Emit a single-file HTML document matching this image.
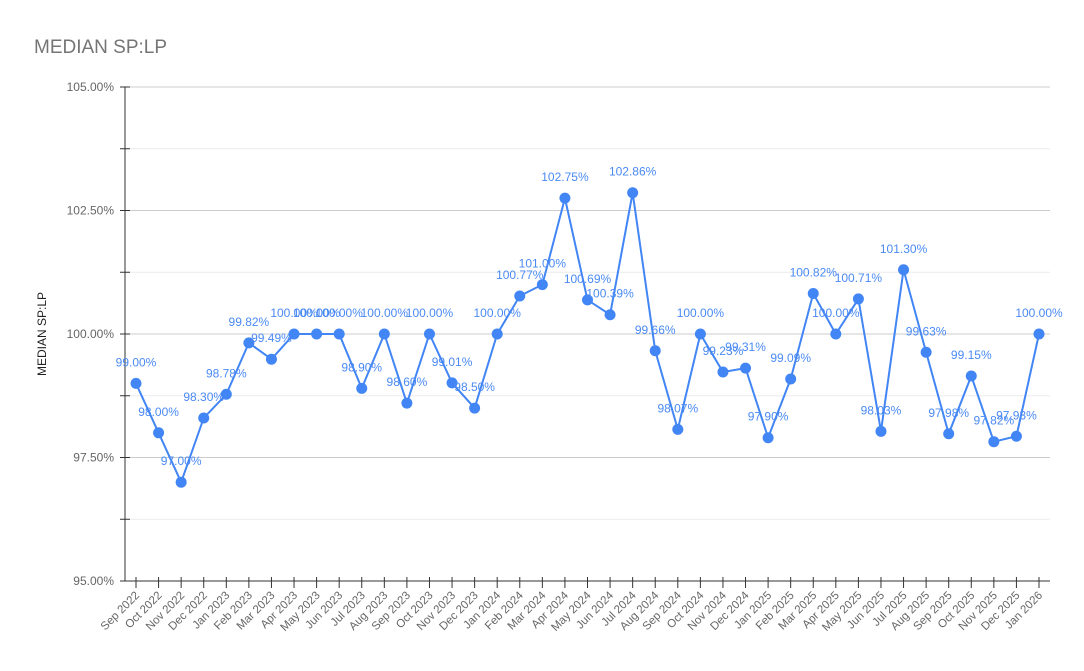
<!DOCTYPE html><html><head><meta charset="utf-8"><style>body{margin:0;background:#fff}svg{display:block;font-family:"Liberation Sans",Roboto,sans-serif}</style></head><body>
<svg id="c" width="1084" height="671" xmlns="http://www.w3.org/2000/svg"></svg>
<script>
const v=[99,98,97,98.3,98.78,99.82,99.49,100,100,100,98.9,100,98.6,100,99.01,98.5,100,100.77,101,102.75,100.69,100.39,102.86,99.66,98.07,100,99.23,99.31,97.9,99.09,100.82,100,100.71,98.03,101.3,99.63,97.98,99.15,97.82,97.93,100];
const m=['Jan','Feb','Mar','Apr','May','Jun','Jul','Aug','Sep','Oct','Nov','Dec'];
const X=i=>136+i*22.575, Y=p=>581-(p-95)*49.4;
let s='<text x="34" y="53" font-size="19" fill="#757575">MEDIAN SP:LP</text>';
s+='<text transform="translate(46,334) rotate(-90)" text-anchor="middle" font-size="12" fill="#222">MEDIAN SP:LP</text>';
for(let k=0;k<=8;k++){const p=95+k*1.25,y=Y(p);s+=`<line x1="125" x2="1050" y1="${y}" y2="${y}" stroke="${k%2?'#ebebeb':'#ccc'}"/>`;
s+=`<line x1="120" x2="130" y1="${y}" y2="${y}" stroke="#333"/>`;
if(k%2==0)s+=`<text x="114" y="${y+4}" text-anchor="end" font-size="12" fill="#666">${p.toFixed(2)}%</text>`;}
s+='<line x1="125" x2="125" y1="87" y2="581" stroke="#333"/><line x1="125" x2="1050" y1="581" y2="581" stroke="#333"/>';
let pts=[];
v.forEach((p,i)=>{const x=X(i),mi=(8+i)%12,yr=2022+Math.floor((8+i)/12);pts.push(x+','+Y(p));
s+=`<line x1="${x}" x2="${x}" y1="577" y2="588" stroke="#333"/>`;
s+=`<text transform="translate(${x+4},596) rotate(-45)" text-anchor="end" font-size="11.5" fill="#666">${m[mi]} ${yr}</text>`;});
s+=`<polyline points="${pts.join(' ')}" fill="none" stroke="#4285f4" stroke-width="2"/>`;
v.forEach((p,i)=>{const x=X(i),y=Y(p);s+=`<circle cx="${x}" cy="${y}" r="5.5" fill="#4285f4"/>`;
s+=`<text x="${x}" y="${y-17}" text-anchor="middle" font-size="12" fill="#4a8af4">${p.toFixed(2)}%</text>`;});
document.getElementById('c').innerHTML=s;
</script></body></html>
